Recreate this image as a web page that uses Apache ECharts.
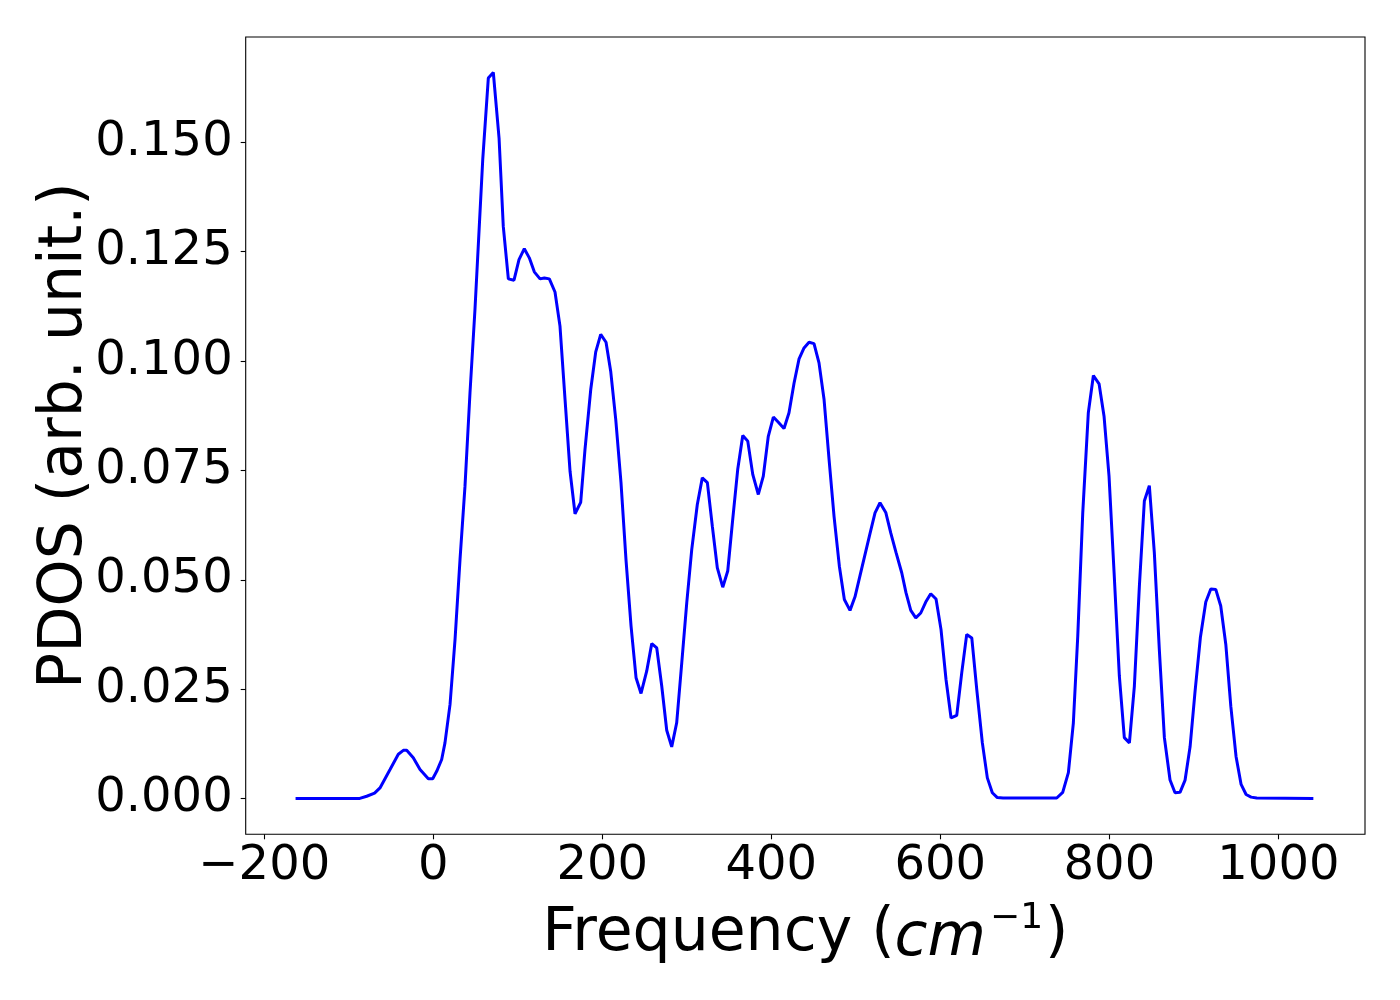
<!DOCTYPE html>
<html>
<head>
<meta charset="utf-8">
<script src="https://cdn.jsdelivr.net/npm/echarts@6/dist/echarts.min.js"></script>
<style>
html,body{margin:0;padding:0;background:#fff;}
#chart{width:1400px;height:1000px;}
</style>
</head>
<body>
<div id="chart"></div>
<script>
// Frequency (cm^-1) values of the PDOS curve vertices
const freq = [
  -163, -87, -78.8, -69.5, -63.1, -51.2, -41.4, -35.5, -31.5, -23.7, -15.7, -5.9, -0.7, 4.0, 9.9, 13.8,
  19.8, 25.7, 31.6, 37.5, 43.4, 49.3, 54.4, 58.5, 65.1, 71.0, 77.8, 82.8, 88.8, 95.5, 101.4,
  107.7, 113.6, 119.5, 126.3, 131.4, 137.3, 144.0, 149.9, 155.9, 161.8, 167.7, 174.4, 179.5, 186.3,
  192.2, 198.1, 204.4, 209.9, 215.9, 222.1, 228.0, 234.0, 239.9, 245.8, 252.5, 258.5, 264.4, 270.3,
  276.2, 282.1, 288.0, 294.0, 299.9, 305.8, 312.4, 318.3, 324.3, 330.2, 336.1, 342.5, 348.4, 354.3,
  360.2, 366.2, 372.1, 378.0, 384.6, 390.5, 396.4, 402.4, 408.3, 415.0, 420.9, 426.9, 432.8, 438.7,
  444.6, 450.5, 456.4, 462.4, 468.3, 474.2, 480.5, 486.4, 493.1, 499.0, 505.0, 510.9, 516.8, 522.7,
  528.6, 535.4, 541.3, 547.6, 554.3, 559.4, 565.0, 570.9, 576.8, 582.7, 588.6, 594.9, 600.8, 606.7,
  612.7, 619.4, 625.3, 631.2, 637.2, 643.1, 649.7, 655.6, 661.5, 667.4, 674.2, 737.7, 744.8, 751.5,
  757.4, 762.6, 768.5, 775.1, 781.1, 787.8, 793.7, 799.6, 805.6, 811.8, 817.7, 823.7, 829.6, 835.5,
  841.4, 847.3, 853.2, 859.1, 865.1, 871.8, 877.7, 883.6, 889.6, 895.5, 901.4, 907.7, 914.1, 920.0,
  925.9, 931.8, 937.8, 943.7, 949.9, 955.9, 961.8, 967.7, 974.4, 1041.4
];
// PDOS (arb. unit.) at each vertex
const pdos = [
  0.0000, 0.0000, 0.0005, 0.0012, 0.0024, 0.0066, 0.0101, 0.0110, 0.0110, 0.0093, 0.0066, 0.0045, 0.0045, 0.0062, 0.0089, 0.0127,
  0.0215, 0.0363, 0.0546, 0.0714, 0.0927, 0.1118, 0.1308, 0.1461, 0.1647, 0.1660, 0.1510, 0.1308, 0.1188, 0.1185, 0.1232,
  0.1257, 0.1236, 0.1204, 0.1188, 0.1190, 0.1188, 0.1158, 0.1080, 0.0912, 0.0748, 0.0651, 0.0677, 0.0798, 0.0935,
  0.1021, 0.1061, 0.1043, 0.0977, 0.0866, 0.0722, 0.0546, 0.0394, 0.0276, 0.0240, 0.0291, 0.0354, 0.0344, 0.0257,
  0.0156, 0.0118, 0.0173, 0.0310, 0.0447, 0.0569, 0.0672, 0.0733, 0.0722, 0.0622, 0.0527, 0.0483, 0.0520, 0.0638,
  0.0752, 0.0830, 0.0817, 0.0741, 0.0695, 0.0737, 0.0828, 0.0872, 0.0860, 0.0846, 0.0882, 0.0950, 0.1005, 0.1030,
  0.1043, 0.1040, 0.0996, 0.0912, 0.0775, 0.0645, 0.0531, 0.0455, 0.0430, 0.0461, 0.0510, 0.0558, 0.0606, 0.0653,
  0.0676, 0.0654, 0.0607, 0.0562, 0.0516, 0.0470, 0.0430, 0.0413, 0.0424, 0.0449, 0.0468, 0.0456, 0.0386, 0.0272,
  0.0184, 0.0190, 0.0287, 0.0375, 0.0367, 0.0249, 0.0127, 0.0047, 0.0013, 0.0002, 0.0001, 0.0001, 0.0014, 0.0059,
  0.0173, 0.0371, 0.0653, 0.0882, 0.0967, 0.0948, 0.0874, 0.0737, 0.0516, 0.0280, 0.0139, 0.0127, 0.0257, 0.0485,
  0.0680, 0.0715, 0.0562, 0.0341, 0.0139, 0.0042, 0.0013, 0.0014, 0.0042, 0.0118, 0.0245, 0.0368, 0.0449, 0.0479,
  0.0478, 0.0440, 0.0352, 0.0211, 0.0096, 0.0032, 0.0009, 0.0003, 0.0001, 0.0000
];
const xTicks = [-200, 0, 200, 400, 600, 800, 1000];
const yTicks = [0, 0.025, 0.05, 0.075, 0.1, 0.125, 0.15];

const seriesData = freq.map((f, i) => [f, pdos[i]]);
const FONT = 'DejaVu Sans';

const chart = echarts.init(document.getElementById('chart'), null, {renderer: 'canvas'});
chart.setOption({
  animation: false,
  backgroundColor: '#ffffff',
  grid: {
    left: 245.7, right: 35, top: 37, bottom: 165.7,
    show: true, borderColor: '#000', borderWidth: 1.1, backgroundColor: 'transparent'
  },
  xAxis: {
    type: 'value', min: -222, max: 1102.5,
    axisLine: {show: false, onZero: false},
    splitLine: {show: false},
    axisTick: {show: true, customValues: xTicks, length: 5, lineStyle: {color: '#000', width: 1.1}},
    axisLabel: {
      customValues: xTicks, fontSize: 48, fontFamily: FONT, color: '#000', margin: 8,
      formatter: v => String(v).replace('-', '\u2212')
    },
    name: 'Frequency ({it|cm}{sup|\u22121})',
    nameLocation: 'middle', nameGap: 66, nameMoveOverlap: false,
    nameTextStyle: {
      fontSize: 60, fontFamily: FONT, color: '#000',
      rich: {
        it: {fontSize: 60, fontFamily: FONT, fontStyle: 'italic', color: '#000', verticalAlign: 'bottom'},
        sup: {fontSize: 36, fontFamily: FONT, color: '#000', verticalAlign: 'bottom', padding: [0, 2, 33, 4]}
      }
    }
  },
  yAxis: {
    type: 'value', min: -0.0082, max: 0.1741,
    axisLine: {show: false, onZero: false},
    splitLine: {show: false},
    axisTick: {show: true, customValues: yTicks, length: 5, lineStyle: {color: '#000', width: 1.1}},
    axisLabel: {
      customValues: yTicks, fontSize: 48, fontFamily: FONT, color: '#000', margin: 13,
      formatter: v => v.toFixed(3)
    },
    name: 'PDOS (arb. unit.)',
    nameLocation: 'middle', nameRotate: 90, nameGap: 150, nameMoveOverlap: false,
    nameTextStyle: {fontSize: 60, fontFamily: FONT, color: '#000'}
  },
  series: [{
    type: 'line',
    data: seriesData,
    showSymbol: false,
    symbol: 'none',
    smooth: false,
    lineStyle: {color: '#0000ff', width: 3},
    itemStyle: {color: '#0000ff'}
  }]
});
</script>
</body>
</html>
